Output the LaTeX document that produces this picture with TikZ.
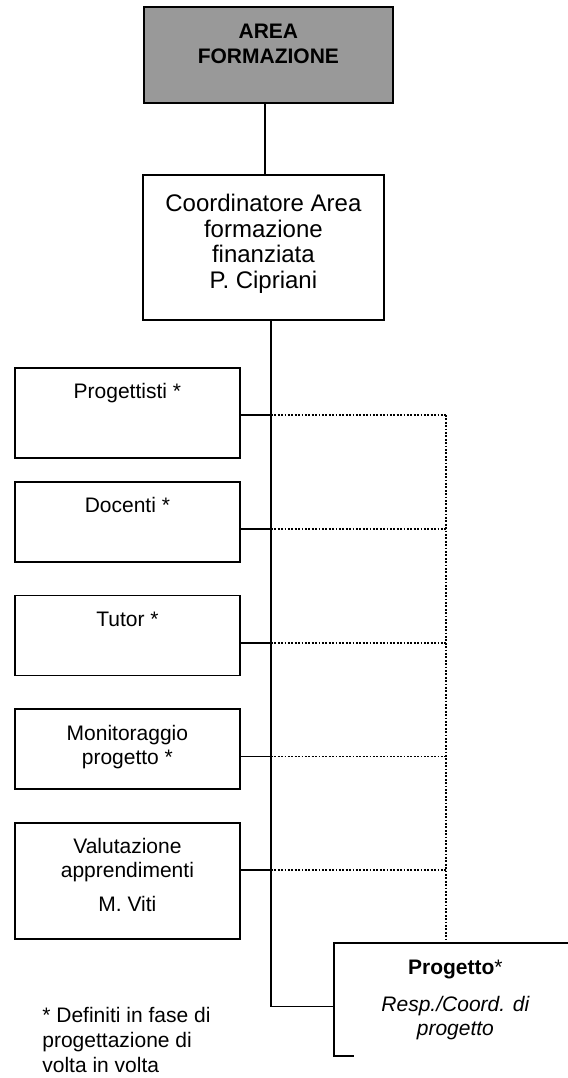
\documentclass[tikz,border=0pt]{standalone}
\usepackage{fontspec}
\setmainfont{Liberation Sans}
\usetikzlibrary{positioning}
\definecolor{areagray}{RGB}{153,153,153}
\newcommand{\cell}[4]{\parbox[c][#1][t]{#2}{\centering\vspace*{#3}\strut #4}}

\begin{document}
\begin{tikzpicture}[
    x = 0.5pt, y = -0.5pt,
    node distance = 16pt,
    unit/.style = {rectangle, draw, line width=0.9pt, inner sep=0pt, anchor=north west},
    line/.style = {black, line width=0.9pt},
    dots/.style = {black, line width=0.9pt, dash pattern=on 0.9pt off 0.8pt},
    font=\fontsize{10.5}{12}\selectfont
    ]
  \useasboundingbox (0,0) rectangle (568,1078);

  \node[unit, fill=areagray, font=\fontsize{10.5}{12.5}\selectfont\bfseries] (area) at (143,6)
    {\cell{48pt}{124.5pt}{7pt}{AREA\\FORMAZIONE}} ;
  \node[unit, font=\fontsize{12}{12.75}\selectfont] (coord) at (142,174)
    {\cell{72.5pt}{120.5pt}{9.6pt}{Coordinatore Area\\formazione\\finanziata\\P. Cipriani}} ;

  \node[unit] (prog) at (14,367) {\cell{45pt}{112.5pt}{7pt}{Progettisti *}} ;
  \node[unit] (doc) [below=11pt of prog] {\cell{40pt}{112.5pt}{7pt}{Docenti *}} ;
  \node[unit] (tutor) [below=of doc] {\cell{40pt}{112.5pt}{7pt}{Tutor *}} ;
  \node[unit] (monit) [below=of tutor] {\cell{40pt}{112.5pt}{7pt}{Monitoraggio\\progetto *}} ;
  \node[unit] (valut) [below=of monit] {\cell{58pt}{112.5pt}{7pt}{Valutazione\\apprendimenti\\[5pt]M. Viti}} ;

  \node[anchor=north west, inner sep=0pt] (proj) at (334,943)
    {\cell{56pt}{121pt}{7pt}{\textbf{Progetto}*\\[6.5pt]{\itshape Resp./Coord. di\\progetto}}} ;
  \node[anchor=north west, inner sep=0pt, align=left, font=\fontsize{10.5}{12.5}\selectfont] (note) at (42,1007)
    {* Definiti in fase di\\progettazione di\\volta in volta} ;

  % box of the project is cut on the right
  \draw[line] ([xshift=-4pt]proj.north east) -- (proj.north west) -- (proj.south west) -- ([xshift=10pt]proj.south west);

  \coordinate (hub) at ([xshift=3.75pt]coord.south) ;
  \coordinate (rail) at ([xshift=56pt]proj.north west) ;

  \draw[line] ([xshift=-1.75pt]area.south) -- ([xshift=-1.75pt]area.south |- coord.north);
  \draw[line] (hub) |- ([yshift=-3.5pt]proj.west);
  \foreach \b in {prog, doc, tutor, monit, valut} {
    \coordinate (\b-j) at ([yshift=-24pt]\b.north east) ;
    \draw[line] (\b-j) -- (\b-j -| hub);
    \draw[dots] (\b-j -| hub) -- (\b-j -| rail);
  }
  \draw[dots] (prog-j -| rail) -- (rail);
\end{tikzpicture}
\end{document}
